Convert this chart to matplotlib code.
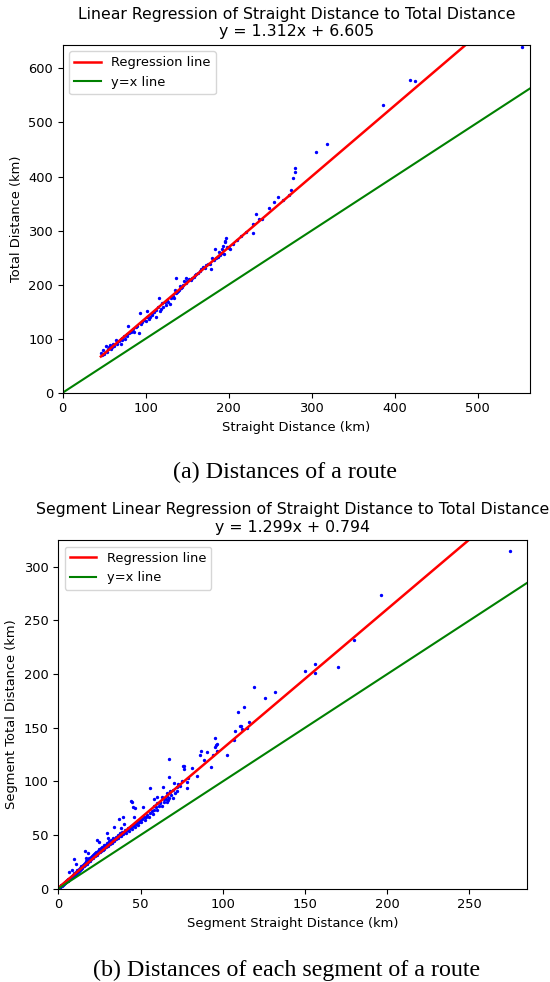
import numpy as np
import matplotlib
matplotlib.use("Agg")
import matplotlib.pyplot as plt

# (a) whole routes: straight distance vs total distance (km)
route_straight = [46, 47, 48, 49, 50, 52, 53, 55, 56, 57, 58, 60, 61, 62, 64, 65, 66, 68, 70, 70,
                  71, 72, 74, 75, 77, 78, 79, 80, 82, 83, 85, 86, 88, 90, 92, 93, 94, 96, 98, 100,
                  101, 102, 104, 105, 107, 108, 110, 112, 113, 115, 116, 117, 119, 120, 121, 123, 124, 126, 127, 129,
                  130, 131, 133, 134, 135, 136, 137, 138, 139, 140, 141, 142, 144, 145, 146, 148, 149, 150, 152, 154,
                  156, 158, 160, 161, 163, 165, 167, 169, 171, 173, 175, 177, 179, 180, 182, 183, 185, 187, 188, 190,
                  192, 192, 193, 194, 195, 196, 197, 198, 200, 202, 205, 210, 215, 221, 229, 229, 233, 236, 240, 248,
                  254, 260, 266, 273, 275, 278, 280, 280, 305, 318, 386, 419, 425, 553]
route_total = [74, 70, 72, 79, 71, 86, 76, 80, 84, 88, 81, 85, 90, 86, 98, 91, 93, 96, 100, 91,
               97, 102, 104, 99, 104, 108, 123, 110, 113, 114, 118, 112, 122, 124, 111, 147, 128, 131, 134, 132,
               151, 140, 137, 141, 145, 143, 150, 140, 153, 158, 176, 151, 154, 166, 159, 167, 163, 171, 168, 165,
               175, 178, 179, 176, 190, 184, 213, 186, 188, 190, 197, 193, 196, 199, 206, 203, 212, 206, 210, 208,
               212, 214, 218, 219, 222, 226, 228, 233, 231, 236, 239, 238, 229, 249, 245, 265, 250, 252, 260, 255,
               258, 265, 272, 257, 278, 281, 286, 270, 268, 266, 275, 283, 290, 298, 296, 312, 331, 321, 322, 342,
               353, 363, 357, 366, 376, 398, 408, 416, 446, 460, 532, 578, 576, 639]

# (b) single segments of the routes
seg_straight = [0.5, 0.8, 1.0, 1.2, 1.5, 1.7, 2.0, 2.2, 2.5, 2.8, 3.0, 3.1, 3.4, 3.6, 3.9, 4.1, 4.4, 4.6, 4.9, 5.2,
                5.4, 5.7, 6.0, 6.2, 6.5, 6.8, 7.0, 7.3, 7.6, 7.9, 8.2, 8.5, 8.8, 9.0, 9.3, 9.6, 9.9, 10.2, 10.5, 10.8,
                11.1, 11.4, 11.7, 12.0, 12.3, 12.6, 12.9, 13.2, 13.5, 13.8, 14.1, 14.4, 14.7, 15.0, 15.3, 15.6, 15.9, 16.2, 16.5, 16.8,
                17.1, 17.4, 17.7, 18.0, 18.3, 18.6, 18.9, 19.2, 19.5, 19.8, 20.1, 20.4, 20.7, 21.0, 21.3, 21.6, 21.9, 22.2, 22.5, 22.8,
                23.1, 23.4, 23.7, 24.0, 24.3, 24.6, 24.9, 25.2, 25.5, 25.8, 26.1, 26.4, 26.7, 27.0, 27.3, 27.6, 27.9, 28.2, 28.5, 28.8,
                29.1, 29.5, 30.0, 30.4, 30.8, 31.2, 31.6, 32.0, 32.5, 33.0, 33.4, 33.9, 34.3, 34.8, 35.2, 35.7, 36.1, 36.6, 37.0, 37.5,
                38.0, 38.5, 39.0, 39.5, 40.0, 40.6, 41.1, 41.7, 42.3, 42.8, 43.4, 44.0, 44.6, 45.2, 45.8, 46.4, 47.0, 47.7, 48.3, 49.0,
                49.7, 50.4, 51.1, 51.9, 52.6, 53.4, 54.2, 55.0, 55.8, 56.7, 57.5, 58.4, 59.3, 60.2, 61.2, 62.1, 63.1, 64.1, 65.2, 66.3,
                67.4, 68.6, 69.8, 71.0, 72.3, 58.0, 60.0, 62.0, 64.0, 66.0, 68.0, 70.0, 72.0, 74.0, 75.0,
                6.5, 8.3, 9.7, 10.8, 16.0, 17.0, 17.8, 23.3, 25.0, 29.4, 30.0, 30.4, 34.0, 37.0, 38.0, 39.5, 40.0, 44.5, 44.6, 45.2,
                46.0, 46.6, 51.6, 55.5, 58.3, 60.3, 62.8, 63.8, 65.8, 66.8, 67.2, 67.4, 68.0, 70.4, 73.0, 76.0, 76.5, 76.5, 78.0, 78.5,
                79.0, 81.6, 84.6, 86.0, 87.0, 88.5, 90.5, 92.7, 94.0, 95.0, 95.5, 95.8, 96.2, 96.8, 102.3, 106.7, 107.3, 109.3, 110.4, 111.0,
                112.0, 112.8, 115.0, 115.8, 118.8, 125.5, 131.6, 149.8, 156.3, 156.3, 170.0, 179.8, 196.4, 274.7]
seg_total = [1.2, 1.5, 1.9, 2.0, 2.4, 3.1, 2.9, 3.6, 3.4, 4.2, 4.5, 3.8, 5.0, 4.6, 5.9, 5.3, 6.4, 6.0, 7.1, 6.8,
             8.0, 7.3, 8.9, 7.9, 9.3, 8.6, 10.4, 9.6, 11.2, 10.1, 12.0, 11.0, 13.1, 11.8, 12.6, 14.2, 13.0, 15.1, 13.9, 16.0,
             14.6, 17.2, 15.5, 16.8, 18.4, 16.9, 19.0, 17.6, 20.1, 18.5, 21.3, 19.4, 20.6, 22.4, 20.8, 23.0, 21.6, 24.1, 22.4, 23.5,
             25.6, 23.3, 26.0, 24.6, 27.1, 25.4, 28.4, 26.1, 27.5, 29.6, 27.8, 30.1, 28.6, 31.4, 29.0, 30.6, 32.5, 30.4, 33.1, 31.3,
             34.2, 31.8, 33.4, 35.6, 33.0, 34.7, 36.8, 34.1, 35.9, 38.0, 35.3, 37.1, 39.2, 36.2, 38.4, 40.5, 37.4, 39.6, 41.0, 38.6,
             40.2, 42.6, 39.8, 41.8, 44.1, 41.3, 43.2, 45.7, 42.8, 44.9, 47.3, 44.2, 46.5, 48.6, 46.0, 47.9, 50.2, 47.6, 49.5, 51.8,
             49.0, 51.1, 53.3, 50.6, 52.8, 55.1, 52.3, 54.6, 57.0, 54.0, 56.4, 58.7, 55.8, 58.2, 60.6, 57.9, 60.3, 62.5, 59.6, 62.4,
             64.3, 61.8, 64.6, 66.8, 64.2, 67.3, 69.1, 66.9, 70.2, 72.4, 70.0, 73.6, 75.8, 73.5, 77.2, 79.6, 77.0, 80.9, 83.4, 81.2,
             85.0, 87.5, 84.6, 88.9, 91.4, 77.0, 80.0, 81.0, 84.0, 86.0, 90.0, 92.0, 95.0, 96.0, 100.0,
             15.8, 17.4, 27.6, 23.0, 35.0, 28.5, 33.0, 45.0, 43.8, 52.0, 47.0, 42.0, 57.8, 65.0, 57.0, 67.0, 60.0, 81.7, 81.0, 76.0,
             67.0, 74.8, 76.4, 93.8, 84.0, 85.7, 85.7, 94.4, 89.0, 82.6, 121.0, 104.0, 91.0, 98.8, 98.0, 114.0, 114.6, 112.0, 99.0, 93.5,
             103.0, 112.7, 105.0, 124.5, 128.0, 120.0, 127.6, 113.0, 124.5, 131.7, 140.0, 134.0, 128.6, 134.5, 124.5, 139.0, 147.0, 164.6, 151.5, 151.5,
             149.0, 169.6, 150.0, 155.0, 188.0, 178.0, 183.5, 203.0, 209.0, 201.0, 207.0, 232.0, 274.0, 315.0]

route_fit = (1.312, 6.605)
seg_fit = (1.299, 0.794)

plt.rcParams['font.family'] = 'DejaVu Sans'
plt.rcParams['font.size'] = 9.4


def draw_panel(ax, x, y, fit, title, xlabel, ylabel, xmax, ymax):
    x = np.array(x)
    y = np.array(y)
    ax.scatter(x, y, s=2, color='blue')
    xs = np.sort(x)
    ax.plot(xs, fit[0] * xs + fit[1], color='red', lw=1.8, label='Regression line')
    ax.plot([0, xmax], [0, xmax], color='green', lw=1.5, label='y=x line')
    ax.set_xlim(0, xmax)
    ax.set_ylim(0, ymax)
    ax.set_title(title + '\ny = %.3fx + %.3f' % fit, fontsize=11.3)
    ax.set_xlabel(xlabel)
    ax.set_ylabel(ylabel)
    ax.legend(loc='upper left')


fig = plt.figure(figsize=(5.5, 9.82), dpi=100)
ax1 = fig.add_axes([0.114, 0.6001, 0.8496, 0.3544])
ax2 = fig.add_axes([0.106, 0.0950, 0.8522, 0.3551])

draw_panel(ax1, route_straight, route_total, route_fit,
           'Linear Regression of Straight Distance to Total Distance',
           'Straight Distance (km)', 'Total Distance (km)', 563, 644)
draw_panel(ax2, seg_straight, seg_total, seg_fit,
           'Segment Linear Regression of Straight Distance to Total Distance',
           'Segment Straight Distance (km)', 'Segment Total Distance (km)', 285, 325)

fig.text(285 / 550, 1 - 472 / 982, '(a) Distances of a route', ha='center', va='center',
         family='Liberation Serif', fontsize=17.3)
fig.text(287 / 550, 1 - 970 / 982, '(b) Distances of each segment of a route', ha='center', va='center',
         family='Liberation Serif', fontsize=17.3)

fig.savefig('out.png', dpi=100)
